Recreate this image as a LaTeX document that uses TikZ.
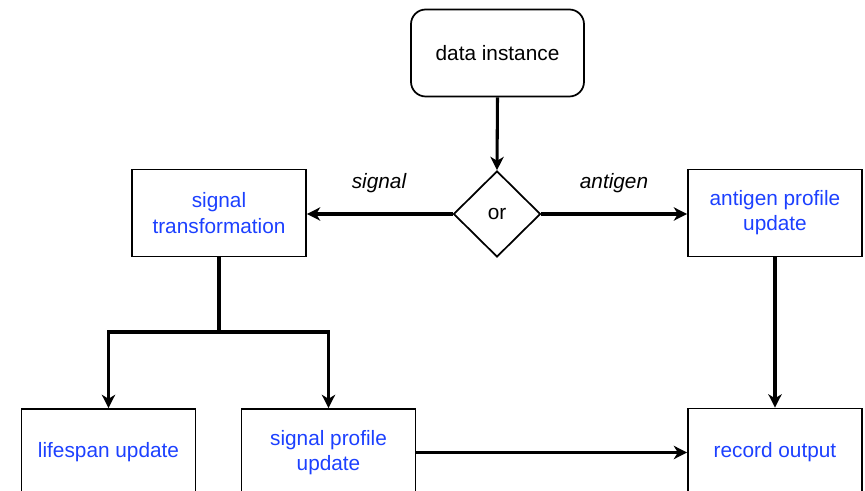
\documentclass[tikz,border=0pt]{standalone}
\usepackage{fontspec}
\setmainfont{Liberation Sans}
\usetikzlibrary{shapes.geometric,arrows.meta}
\definecolor{steptext}{RGB}{28,64,255}
\newcommand{\diagfont}{\fontsize{15.6pt}{18.9pt}\selectfont}
\tikzset{
  box/.style={draw, line width=1.3pt, minimum width=130.5pt, minimum height=65.25pt,
    inner sep=0pt, align=center, text=steptext},
  startbox/.style={draw, line width=1.3pt, rounded corners=11pt, minimum width=129.75pt,
    minimum height=65.25pt, inner sep=0pt, align=center},
  choice/.style={draw, diamond, line width=1.3pt, minimum width=65.25pt, minimum height=64.5pt,
    inner sep=0pt},
  flow/.style={line width=2.3pt, -{Stealth[length=10pt, width=10pt, inset=3pt]}},
  branchlabel/.style={font=\diagfont\itshape},
}
\begin{document}
\begin{tikzpicture}[x=0.75pt, y=-0.75pt, font=\diagfont]
  \useasboundingbox (0,0) rectangle (865,491);
  \clip (0,0) rectangle (865,491);

  \node[startbox] (data) at (497.5,53) {data instance};
  \node[choice] (or) at (497,214) {or};
  \node[box] (st) at (219,213) {signal\\transformation};
  \node[box] (ap) at (775,213) {antigen profile\\update};
  \node[box] (ls) at (108.5,452.5) {lifespan update};
  \node[box] (sp) at (328.5,452.5) {signal profile\\update};
  \node[box] (ro) at (775,452) {record output};

  \node[branchlabel] (lsig) at (379,183) {signal};
  \node[branchlabel] (lant) at (614,183) {antigen};

  \coordinate (fork) at (219,332);

  \draw[flow] (data.south) -- (or.north);
  \draw[flow] (or.west) -- (st.east |- or.west);
  \draw[flow] (or.east) -- (ap.west |- or.east);
  \draw[line width=2.3pt] (st.south) -- (fork);
  \draw[flow] (fork) -| (ls.north);
  \draw[flow] (fork) -| (sp.north);
  \draw[flow] (ap.south) -- (ro.north);
  \draw[flow] (sp.east) -- (ro.west |- sp.east);
\end{tikzpicture}
\end{document}
